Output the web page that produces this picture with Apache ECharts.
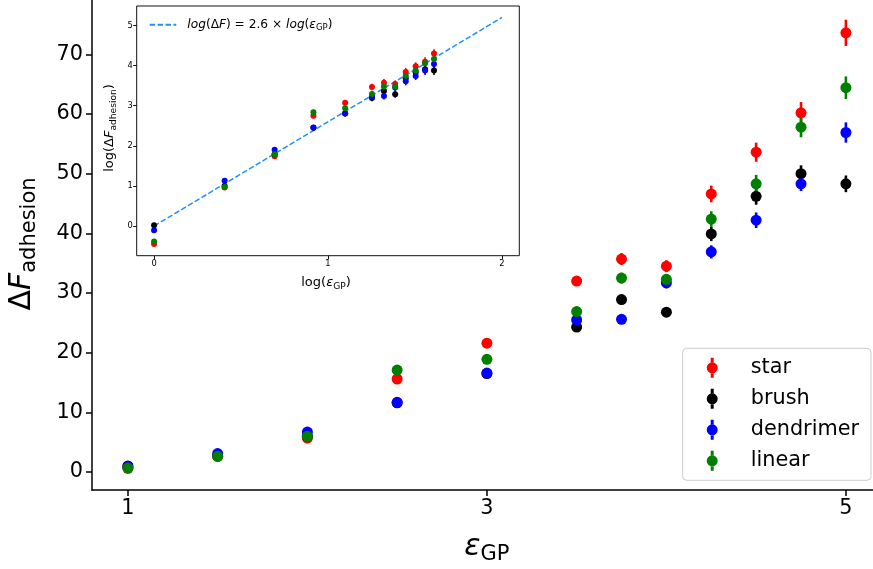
<!DOCTYPE html>
<html>
<head>
<meta charset="utf-8">
<script src="https://cdn.jsdelivr.net/npm/echarts@6/dist/echarts.min.js"></script>
<style>
  html, body { margin: 0; padding: 0; background: #fff; }
  #chart { width: 873px; height: 569px; }
</style>
</head>
<body>
<div id="chart"></div>
<script>
// Grafting-point strength and adhesion-force change per architecture
const epsGP = [1, 1.5, 2, 2.5, 3, 3.5, 3.75, 4, 4.25, 4.5, 4.75, 5];

const star      = [0.64, 2.62, 5.7, 15.6, 21.6, 32.0, 35.7, 34.5, 46.6, 53.6, 60.2, 73.6];
const starErr   = [0.1, 0.2, 0.3, 0.5, 0.6, 0.8, 1.0, 1.0, 1.4, 1.6, 1.8, 2.2];
const brush     = [1.02, 2.72, 6.0, 11.6, 16.5, 24.3, 28.9, 26.8, 39.9, 46.2, 50.0, 48.3];
const brushErr  = [0.1, 0.2, 0.3, 0.4, 0.5, 0.7, 0.8, 0.8, 1.2, 1.4, 1.4, 1.4];
const dendrimer    = [0.9, 3.1, 6.7, 11.7, 16.6, 25.5, 25.6, 31.7, 36.9, 42.2, 48.3, 56.9];
const dendrimerErr = [0.1, 0.2, 0.3, 0.4, 0.5, 0.7, 0.7, 0.9, 1.1, 1.3, 1.2, 1.7];
const linear    = [0.68, 2.64, 6.0, 17.1, 18.9, 26.9, 32.5, 32.3, 42.4, 48.3, 57.8, 64.4];
const linearErr = [0.1, 0.2, 0.3, 0.5, 0.5, 0.8, 0.9, 0.9, 1.3, 1.5, 1.7, 1.9];

// half-widths of the error bars in the log-log inset
const logErr = [0.04, 0.05, 0.05, 0.06, 0.07, 0.08, 0.09, 0.09, 0.1, 0.1, 0.11, 0.11];

// power-law guide line in the inset
const fitSlope = 2.6;
const fitX = [0, 2];

// tick labels
const xTicks = [1, 3, 5];
const yTicks = [0, 10, 20, 30, 40, 50, 60, 70];
const insetXTicks = [0, 1, 2];
const insetYTicks = [0, 1, 2, 3, 4, 5];

const FONT = 'DejaVu Sans';
const FIT_COLOR = '#1e90ff';

const groups = [
  { name: 'star',      values: star,      err: starErr,      color: '#ff0000' },
  { name: 'brush',     values: brush,     err: brushErr,     color: '#000000' },
  { name: 'dendrimer', values: dendrimer, err: dendrimerErr, color: '#0000ff' },
  { name: 'linear',    values: linear,    err: linearErr,    color: '#008000' }
];

function errorBars(color, width) {
  return function (params, api) {
    const x = api.value(0), y = api.value(1), e = api.value(2);
    const lo = api.coord([x, y - e]);
    const hi = api.coord([x, y + e]);
    return {
      type: 'line',
      shape: { x1: lo[0], y1: lo[1], x2: hi[0], y2: hi[1] },
      style: { stroke: color, lineWidth: width }
    };
  };
}

const series = [];
groups.forEach(g => {
  const mainData = epsGP.map((x, i) => [x, g.values[i], g.err[i]]);
  series.push({
    name: g.name + '-err', type: 'custom', xAxisIndex: 0, yAxisIndex: 0,
    renderItem: errorBars(g.color, 2.6), encode: { x: 0, y: 1 }, data: mainData, silent: true
  });
  series.push({
    name: g.name, type: 'scatter', xAxisIndex: 0, yAxisIndex: 0,
    symbol: 'circle', symbolSize: 11, itemStyle: { color: g.color, opacity: 1 },
    data: mainData.map(d => [d[0], d[1]]), silent: true
  });
});

// inset: natural logs of the same measurements
series.push({
  name: 'fit', type: 'line', xAxisIndex: 1, yAxisIndex: 1, z: 4,
  symbol: 'none', showSymbol: false,
  itemStyle: { color: FIT_COLOR },
  lineStyle: { color: FIT_COLOR, width: 1.5, type: [5.5, 2.4] },
  data: fitX.map(x => [x, fitSlope * x]), silent: true
});
groups.forEach(g => {
  const logData = epsGP.map((x, i) => [Math.log(x), Math.log(g.values[i]), logErr[i]]);
  series.push({
    name: g.name + '-log-err', type: 'custom', xAxisIndex: 1, yAxisIndex: 1, z: 5,
    renderItem: errorBars(g.color, 1.6), encode: { x: 0, y: 1 }, data: logData, silent: true
  });
  series.push({
    name: g.name + '-log', type: 'scatter', xAxisIndex: 1, yAxisIndex: 1, z: 5,
    symbol: 'circle', symbolSize: 6, itemStyle: { color: g.color, opacity: 1 },
    data: logData.map(d => [d[0], d[1]]), silent: true
  });
});

// marker with vertical error bar, used as the legend glyph
const errIcon = 'path://M4,0h3v4.8h-3z M4,15.2h3v4.8h-3z M0,10a5.5,5.5 0 1,0 11,0a5.5,5.5 0 1,0 -11,0z';

const mainAxisText = { fontSize: 20.8, color: '#000', fontFamily: FONT };
const insetAxisText = { fontSize: 8.3, color: '#000', fontFamily: FONT };

const option = {
  animation: false,
  backgroundColor: '#fff',
  grid: [
    { left: 92, top: 0, right: 0, bottom: 79 },
    { left: 136.7, top: 6, width: 382.6, height: 249.7, show: true,
      backgroundColor: '#fff', borderColor: '#111', borderWidth: 1 }
  ],
  xAxis: [
    { gridIndex: 0, type: 'value', min: 0.8, max: 5.151,
      axisLine: { show: true, onZero: false, lineStyle: { color: '#000', width: 1.5 } },
      axisTick: { show: true, length: 6, customValues: xTicks, lineStyle: { color: '#000', width: 1.5 } },
      axisLabel: Object.assign({ customValues: xTicks, margin: 8 }, mainAxisText),
      splitLine: { show: false } },
    { gridIndex: 1, type: 'value', min: -0.1, max: 2.1,
      axisLine: { show: false, onZero: false },
      axisTick: { show: true, length: 3.5, customValues: insetXTicks, lineStyle: { color: '#111', width: 1 } },
      axisLabel: Object.assign({ customValues: insetXTicks, margin: 4 }, insetAxisText),
      splitLine: { show: false } }
  ],
  yAxis: [
    { gridIndex: 0, type: 'value', min: -3.0, max: 79.1,
      axisLine: { show: true, onZero: false, lineStyle: { color: '#000', width: 1.5 } },
      axisTick: { show: true, length: 6, customValues: yTicks, lineStyle: { color: '#000', width: 1.5 } },
      axisLabel: Object.assign({ customValues: yTicks, margin: 9 }, mainAxisText),
      splitLine: { show: false } },
    { gridIndex: 1, type: 'value', min: -0.74, max: 5.486,
      axisLine: { show: false, onZero: false },
      axisTick: { show: true, length: 3.5, customValues: insetYTicks, lineStyle: { color: '#111', width: 1 } },
      axisLabel: Object.assign({ customValues: insetYTicks, margin: 4 }, insetAxisText),
      splitLine: { show: false } }
  ],
  legend: [
    { data: groups.map(g => ({ name: g.name, icon: errIcon })),
      orient: 'vertical', left: 682.7, top: 348.3,
      itemWidth: 11, itemHeight: 20, itemGap: 10,
      padding: [9, 12, 9, 24],
      backgroundColor: 'rgba(255,255,255,0.8)', borderColor: '#cccccc', borderWidth: 1, borderRadius: 4,
      selectedMode: false,
      textStyle: { fontSize: 20.8, color: '#000', fontFamily: FONT, lineHeight: 20, padding: [0, 0, 0, 28] } },
    { data: [{ name: 'fit', itemStyle: { opacity: 0 } }],
      left: 148.7, top: 18.7, itemWidth: 26.6, itemHeight: 14, padding: 0,
      selectedMode: false,
      formatter: () => '{it|log}{n|(Δ}{it|F}{n|) = 2.6 × }{it|log}{n|(}{it|ε}{s|GP}{n|)}',
      textStyle: { fontSize: 12.2, color: '#000', fontFamily: FONT, padding: [0, 0, 0, 6],
        rich: {
          n:  { fontSize: 12.2, fontFamily: FONT, color: '#000', lineHeight: 15 },
          it: { fontSize: 12.2, fontFamily: FONT, fontStyle: 'italic', color: '#000', lineHeight: 15 },
          s:  { fontSize: 8.5, fontFamily: FONT, color: '#000', lineHeight: 9, verticalAlign: 'bottom' }
        } } }
  ],
  graphic: [
    // main axis titles
    { type: 'text', x: 486.8, y: 547.7, silent: true,
      style: { text: '{e|ε}{s|GP}', align: 'center', verticalAlign: 'middle',
        rich: {
          e: { fontSize: 30, fontStyle: 'italic', fontFamily: FONT, fill: '#000', lineHeight: 34 },
          s: { fontSize: 21, fontFamily: FONT, fill: '#000', lineHeight: 18, verticalAlign: 'bottom' }
        } } },
    { type: 'text', x: 22.7, y: 244, rotation: Math.PI / 2, silent: true,
      style: { text: '{d|Δ}{f|F}{s|adhesion}', align: 'center', verticalAlign: 'middle',
        rich: {
          d: { fontSize: 30, fontFamily: FONT, fill: '#000', lineHeight: 34 },
          f: { fontSize: 30, fontStyle: 'italic', fontFamily: FONT, fill: '#000', lineHeight: 34 },
          s: { fontSize: 21, fontFamily: FONT, fill: '#000', lineHeight: 18, verticalAlign: 'bottom' }
        } } },
    // inset axis titles
    { type: 'text', x: 326, y: 283, silent: true, z: 10,
      style: { text: '{n|log(}{it|ε}{s|GP}{n|)}', align: 'center', verticalAlign: 'middle',
        rich: {
          n:  { fontSize: 13, fontFamily: FONT, fill: '#000', lineHeight: 16 },
          it: { fontSize: 13, fontStyle: 'italic', fontFamily: FONT, fill: '#000', lineHeight: 16 },
          s:  { fontSize: 9.1, fontFamily: FONT, fill: '#000', lineHeight: 8.6, verticalAlign: 'bottom' }
        } } },
    { type: 'text', x: 110, y: 128, rotation: Math.PI / 2, silent: true, z: 10,
      style: { text: '{n|log(Δ}{it|F}{s|adhesion}{n|)}', align: 'center', verticalAlign: 'middle',
        rich: {
          n:  { fontSize: 13, fontFamily: FONT, fill: '#000', lineHeight: 16 },
          it: { fontSize: 13, fontStyle: 'italic', fontFamily: FONT, fill: '#000', lineHeight: 16 },
          s:  { fontSize: 9.1, fontFamily: FONT, fill: '#000', lineHeight: 8.6, verticalAlign: 'bottom' }
        } } }
  ],
  series: series
};

const chart = echarts.init(document.getElementById('chart'), null, { renderer: 'canvas' });
chart.setOption(option);
</script>
</body>
</html>
